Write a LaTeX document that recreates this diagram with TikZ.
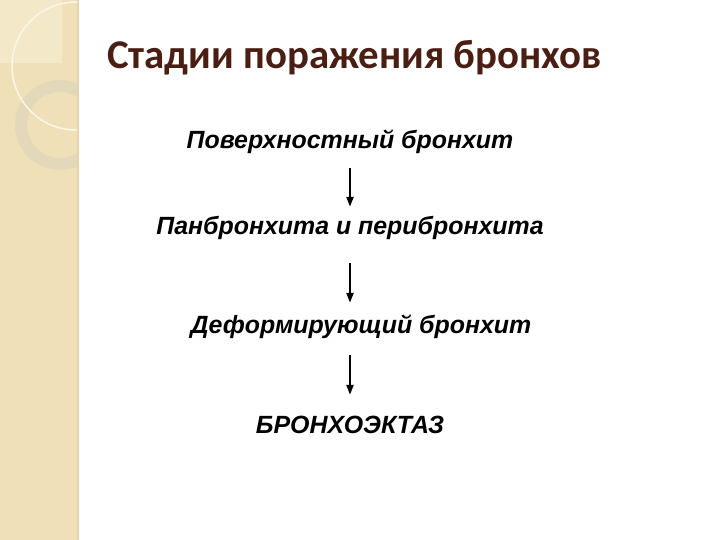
\documentclass[tikz,border=0pt]{standalone}
\usepackage{fontspec}
\setmainfont{Liberation Sans}
\newfontfamily\titlefont{Carlito}
\usetikzlibrary{arrows.meta}
\definecolor{stripbeige}{RGB}{239,224,184}
\definecolor{stripedge}{RGB}{230,212,168}
\definecolor{stripcorner}{RGB}{243,232,200}
\definecolor{ringgrey}{RGB}{224,214,186}
\definecolor{titlebrown}{RGB}{75,30,20}

\begin{document}
\begin{tikzpicture}[x=1bp,y=-1bp]
			\tikzstyle{stage}=[anchor=base,inner sep=0pt,text height=18bp,text depth=5bp,font=\fontsize{25}{29}\selectfont\bfseries\itshape]
			\tikzstyle{stagearrow}=[line width=2.2bp,-{Triangle[length=10bp,width=7bp]}]
			
			\useasboundingbox (0,0) rectangle (720,540);
			\fill[white] (0,0) rectangle (720,540);
			
			% left strip
			\begin{scope}
				\clip (0,0) rectangle (78,540);
				\fill[stripbeige] (0,0) rectangle (78,540);
				\fill[stripcorner] (0,0) rectangle (62,63);
				\draw[ringgrey,line width=12bp,opacity=0.8] (60,125) circle (39);
				\draw[white!70!stripbeige,line width=1.5bp] (76,66) circle (64);
			\end{scope}
			\draw[stripedge,line width=1.5bp] (78,0) -- (78,540);
			
			\node[anchor=base west,inner sep=0pt,text=titlebrown,font=\titlefont\fontsize{41}{45}\selectfont\bfseries] (title) at (107,69) {Стадии поражения бронхов};
			
			\node[stage] (surf) at (350,149) {Поверхностный бронхит};
			\node[stage] (pan) at (350,235) {Панбронхита и перибронхита};
			\node[stage] (deform) at (361,333) {Деформирующий бронхит};
			\node[stage] (bronch) at (350,433) {БРОНХОЭКТАЗ};
			
			\draw[stagearrow,shorten <=14bp,shorten >=10bp] (surf.south) -- (pan.north);
			\draw[stagearrow,shorten <=23bp,shorten >=12bp] (pan.south) -- (deform.north -| pan.north);
			\draw[stagearrow,shorten <=17bp,shorten >=20bp] (deform.south -| bronch.south) -- (bronch.north);
			
		\end{tikzpicture}
\end{document}
